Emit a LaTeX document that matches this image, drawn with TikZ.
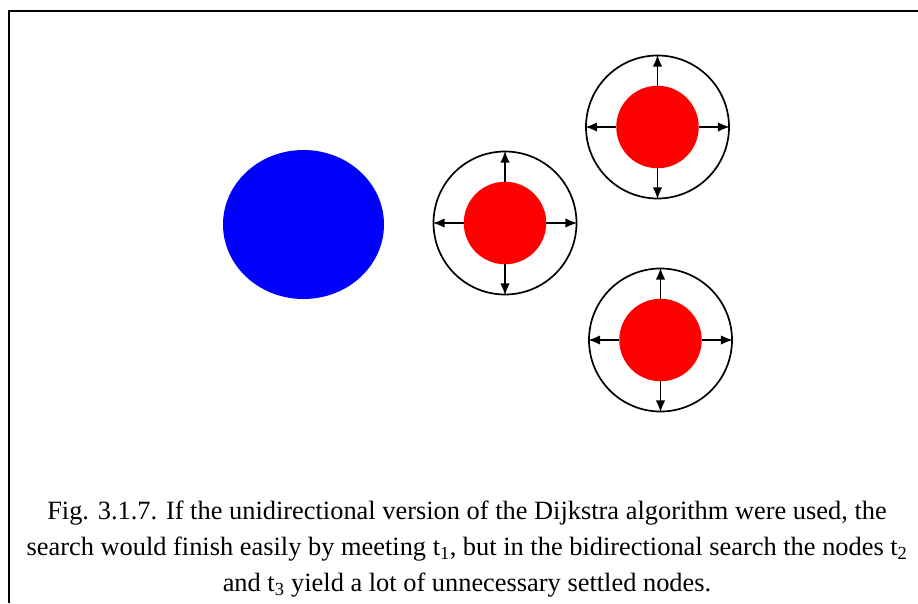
\documentclass[tikz,border=0pt]{standalone}
\usepackage{fontspec}
\setmainfont{Liberation Serif}
\usetikzlibrary{arrows.meta,shapes.geometric}
\begin{document}
\begin{tikzpicture}[x=1pt,y=-1pt,
  frame/.style={line width=1.3pt,black},
  outer/.style={circle,draw=black,line width=1.7pt,minimum size=143pt,inner sep=0pt},
  core/.style={circle,fill=red,minimum size=82.5pt,inner sep=0pt},
  spread/.style={line width=1.8pt,-{Latex[length=12pt,width=9.5pt]}},
  caption/.style={font=\fontsize{26.4}{36}\selectfont,align=center,inner sep=0pt}]
\useasboundingbox (0,0) rectangle (918,603);
\coordinate (tl) at (9,11);
\coordinate (tr) at (918,11);
\coordinate (bl) at (9,603);
\draw[frame] (tr) -- (tl) -- (bl);
\node[ellipse,fill=blue,minimum width=161pt,minimum height=149pt,inner sep=0pt] (s) at (303.5,224.5) {};
\foreach \n/\x/\y in {ta/505/223, tb/657.5/127, tc/660.5/340}{
  \node[outer] (\n o) at (\x,\y) {};
  \node[core] (\n) at (\x,\y) {};
  \foreach \a in {north,south,east,west}
    \draw[spread] (\n.\a) -- (\n o.\a);
}
\node[caption] (cap) at (467,549) {Fig. 3.1.7. If the unidirectional version of the Dijkstra algorithm were used, the\\
search would finish easily by meeting t\textsubscript{1}, but in the bidirectional search the nodes t\textsubscript{2}\\
and t\textsubscript{3} yield a lot of unnecessary settled nodes.};
\end{tikzpicture}
\end{document}
